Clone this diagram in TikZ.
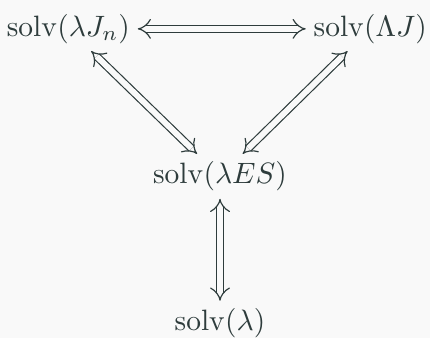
\documentclass[tikz,border=0pt]{standalone}
\usepackage{amsmath}
\usetikzlibrary{arrows.meta}
\definecolor{ink}{HTML}{2E3C3C}
\definecolor{paper}{HTML}{F9F9F9}
\begin{document}
\begin{tikzpicture}[
    every node/.style={text=ink, inner sep=2pt},
    equiv/.style={
        draw=ink, double=paper, double distance=2pt,
        {Implies}-{Implies}, shorten <=0.5pt, shorten >=0.5pt
    }
]

% ----------------------------------------------------------
% Hintergrund und Rahmen
% ----------------------------------------------------------
\fill[paper] (-74.7pt, -55pt) rectangle (71.3pt, 59.8pt);
\useasboundingbox (-74.7pt, -55pt) rectangle (71.3pt, 59.8pt);

% ----------------------------------------------------------
% Knoten
% ----------------------------------------------------------
\node (jn)  at (-51.5pt, 50pt) {$\operatorname{solv}(\lambda J_n)$};
\node (LJ)  at (51pt, 50pt)    {$\operatorname{solv}(\Lambda J)$};
\node (es)  at (0pt, 0pt)      {$\operatorname{solv}(\lambda ES)$};
\node (lam) at (0pt, -50pt)    {$\operatorname{solv}(\lambda)$};

% ----------------------------------------------------------
% Aequivalenzen
% ----------------------------------------------------------
\draw[equiv] (jn) -- (LJ);
\draw[equiv] (es) -- (jn);
\draw[equiv] (es) -- (LJ);
\draw[equiv] (es) -- (lam);

\end{tikzpicture}
\end{document}
